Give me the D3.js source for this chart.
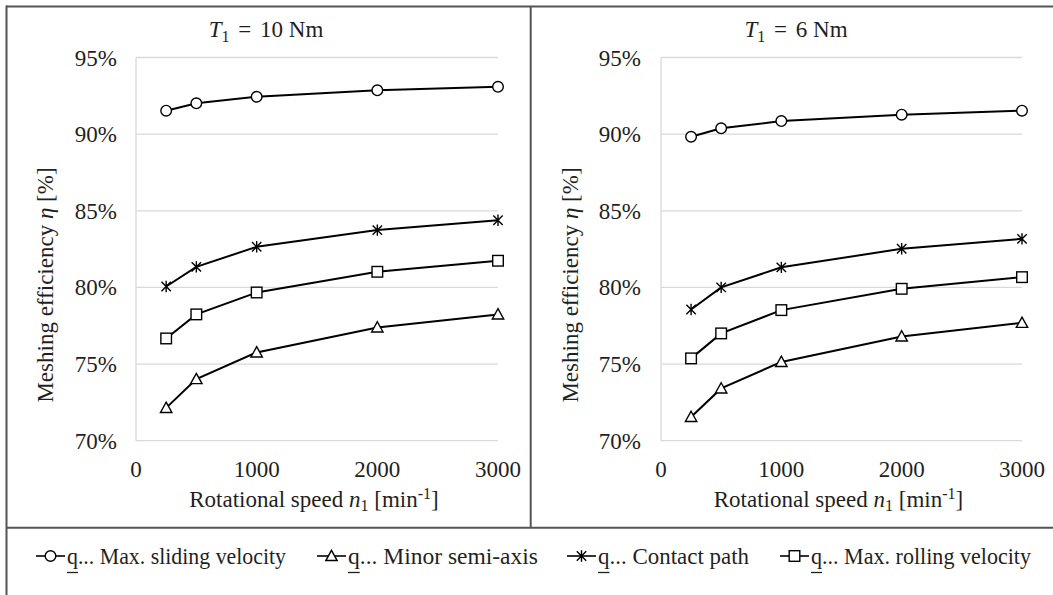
<!DOCTYPE html>
<html><head><meta charset="utf-8">
<script src="https://cdn.jsdelivr.net/npm/d3@7/dist/d3.min.js"></script>
<style>
html,body{margin:0;padding:0;background:#fff;}
svg{display:block;}
text{font-family:"Liberation Serif","Times New Roman",serif;fill:#1f1f1f;}
</style></head>
<body>
<svg id="chart" width="1053" height="595"></svg>
<script>
// ---- data ----
const speeds = [250, 500, 1000, 2000, 3000];
const xTicks = [0, 1000, 2000, 3000];
const yTicks = [70, 75, 80, 85, 90, 95];
const torques = ["10 Nm", "6 Nm"];
const seriesNames = ["Max. sliding velocity", "Minor semi-axis", "Contact path", "Max. rolling velocity"];
const markerTypes = ["circle", "triangle", "star", "square"];
// T1 = 10 Nm
const sliding10 = [91.53, 92.01, 92.44, 92.86, 93.09];
const minor10   = [72.14, 74.02, 75.76, 77.39, 78.24];
const contact10 = [80.06, 81.34, 82.65, 83.74, 84.38];
const rolling10 = [76.67, 78.24, 79.67, 81.02, 81.74];
// T1 = 6 Nm
const sliding6 = [89.83, 90.38, 90.85, 91.27, 91.53];
const minor6   = [71.55, 73.41, 75.14, 76.80, 77.69];
const contact6 = [78.56, 80.00, 81.31, 82.52, 83.17];
const rolling6 = [75.37, 77.00, 78.52, 79.91, 80.67];

const panelSeries = [
  [sliding10, minor10, contact10, rolling10],
  [sliding6, minor6, contact6, rolling6]
];

const svg = d3.select("#chart");
const FS = 23;

function drawMarker(g, type, cx, cy) {
  const sw = 1.4;
  if (type === "circle") {
    g.append("circle").attr("cx", cx).attr("cy", cy).attr("r", 5.3)
      .attr("fill", "#fff").attr("stroke", "#000").attr("stroke-width", sw);
  } else if (type === "square") {
    g.append("rect").attr("x", cx - 5.3).attr("y", cy - 5.3).attr("width", 10.6).attr("height", 10.6)
      .attr("fill", "#fff").attr("stroke", "#000").attr("stroke-width", sw);
  } else if (type === "triangle") {
    const s = 5.7;
    g.append("path").attr("d", `M${cx},${cy - s}L${cx + s},${cy + s * 0.8}L${cx - s},${cy + s * 0.8}Z`)
      .attr("fill", "#fff").attr("stroke", "#000").attr("stroke-width", sw);
  } else if (type === "star") {
    const a = 4.7, v = 5.7;
    g.append("path").attr("d",
      `M${cx - a},${cy - a}L${cx + a},${cy + a}M${cx - a},${cy + a}L${cx + a},${cy - a}M${cx},${cy - v}L${cx},${cy + v}`)
      .attr("fill", "none").attr("stroke", "#000").attr("stroke-width", sw);
  }
}

const panels = [
  {left: 136, right: 498, cx: 266, ytitleX: 53, tickRight: 117},
  {left: 661, right: 1022, cx: 796, ytitleX: 578, tickRight: 641}
];
const plotTop = 57.5, plotBottom = 440.7;

panels.forEach((p, pi) => {
  const x = d3.scaleLinear().domain([0, 3000]).range([p.left, p.right]);
  const y = d3.scaleLinear().domain([70, 95]).range([plotBottom, plotTop]);
  const g = svg.append("g");

  // gridlines
  g.selectAll("line.grid").data(yTicks).join("line")
    .attr("x1", p.left).attr("x2", p.right)
    .attr("y1", d => y(d)).attr("y2", d => y(d))
    .attr("stroke", "#d9d9d9").attr("stroke-width", 1.3);
  // y axis line
  g.append("line").attr("x1", p.left).attr("x2", p.left).attr("y1", plotTop).attr("y2", plotBottom)
    .attr("stroke", "#d9d9d9").attr("stroke-width", 1.3);

  // y tick labels
  g.selectAll("text.yt").data(yTicks).join("text")
    .attr("x", p.tickRight).attr("y", d => y(d)).attr("dy", "0.35em")
    .attr("text-anchor", "end").style("font-size", FS + "px")
    .text(d => d + "%");
  // x tick labels
  g.selectAll("text.xt").data(xTicks).join("text")
    .attr("x", d => x(d)).attr("y", 477)
    .attr("text-anchor", "middle").style("font-size", FS + "px")
    .text(d => d);

  // title
  const t = g.append("text").attr("x", p.cx).attr("y", 37).attr("text-anchor", "middle").style("font-size", FS + "px");
  t.append("tspan").style("font-style", "italic").text("T");
  t.append("tspan").attr("dy", 5).style("font-size", (FS * 0.7) + "px").text("1");
  t.append("tspan").attr("dy", -5).attr("dx", 3).text(" =");
  t.append("tspan").attr("dx", 3).text(" " + torques[pi]);

  // x title
  const xt = g.append("text").attr("x", (p.left + p.right) / 2 - 3).attr("y", 507).attr("text-anchor", "middle").style("font-size", FS + "px");
  xt.append("tspan").text("Rotational speed ");
  xt.append("tspan").style("font-style", "italic").text("n");
  xt.append("tspan").attr("dy", 4).style("font-size", (FS * 0.7) + "px").text("1");
  xt.append("tspan").attr("dy", -4).text(" [min");
  xt.append("tspan").attr("dy", -8).style("font-size", (FS * 0.7) + "px").text("-1");
  xt.append("tspan").attr("dy", 8).text("]");

  // y title
  const yt = g.append("text").attr("transform", `translate(${p.ytitleX},285) rotate(-90)`)
    .attr("text-anchor", "middle").style("font-size", FS + "px");
  yt.append("tspan").text("Meshing efficiency ");
  yt.append("tspan").style("font-style", "italic").text("η");
  yt.append("tspan").text(" [%]");

  // lines
  const line = d3.line().x((d, i) => x(speeds[i])).y(d => y(d));
  panelSeries[pi].forEach((vals) => {
    g.append("path").datum(vals).attr("d", line)
      .attr("fill", "none").attr("stroke", "#000").attr("stroke-width", 2);
  });
  panelSeries[pi].forEach((vals, si) => {
    const mg = g.append("g");
    vals.forEach((v, i) => drawMarker(mg, markerTypes[si], x(speeds[i]), y(v)));
  });
});

// frame
const frameColor = "#555";
svg.append("line").attr("x1", 6).attr("x2", 1053).attr("y1", 6.5).attr("y2", 6.5).attr("stroke", frameColor).attr("stroke-width", 2);
svg.append("line").attr("x1", 6.5).attr("x2", 6.5).attr("y1", 5.5).attr("y2", 595).attr("stroke", frameColor).attr("stroke-width", 2);
svg.append("line").attr("x1", 530.7).attr("x2", 530.7).attr("y1", 6.5).attr("y2", 527.7).attr("stroke", frameColor).attr("stroke-width", 2);
svg.append("line").attr("x1", 6).attr("x2", 1053).attr("y1", 527.7).attr("y2", 527.7).attr("stroke", frameColor).attr("stroke-width", 2);

// legend
const legendX = [36, 317, 567, 780];
const legendW = [219, 190, 151, 220];
seriesNames.forEach((name, i) => {
  const lx = legendX[i];
  const lg = svg.append("g");
  lg.append("line").attr("x1", lx).attr("x2", lx + 29).attr("y1", 556).attr("y2", 556)
    .attr("stroke", "#000").attr("stroke-width", 1.6);
  drawMarker(lg, markerTypes[i], lx + 14.5, 556);
  const tx = lg.append("text").attr("x", lx + 31).attr("y", 564).style("font-size", FS + "px")
    .attr("textLength", legendW[i]).attr("lengthAdjust", "spacingAndGlyphs");
  tx.append("tspan").text("q");
  tx.append("tspan").text("... " + name);
  let ex;
  try { ex = tx.node().getExtentOfChar(0); } catch (e) { ex = {x: lx + 31, width: 11}; }
  lg.append("line").attr("x1", ex.x).attr("x2", ex.x + ex.width).attr("y1", 572.5).attr("y2", 572.5)
    .attr("stroke", "#1f1f1f").attr("stroke-width", 1.3);
});
</script>
</body></html>
